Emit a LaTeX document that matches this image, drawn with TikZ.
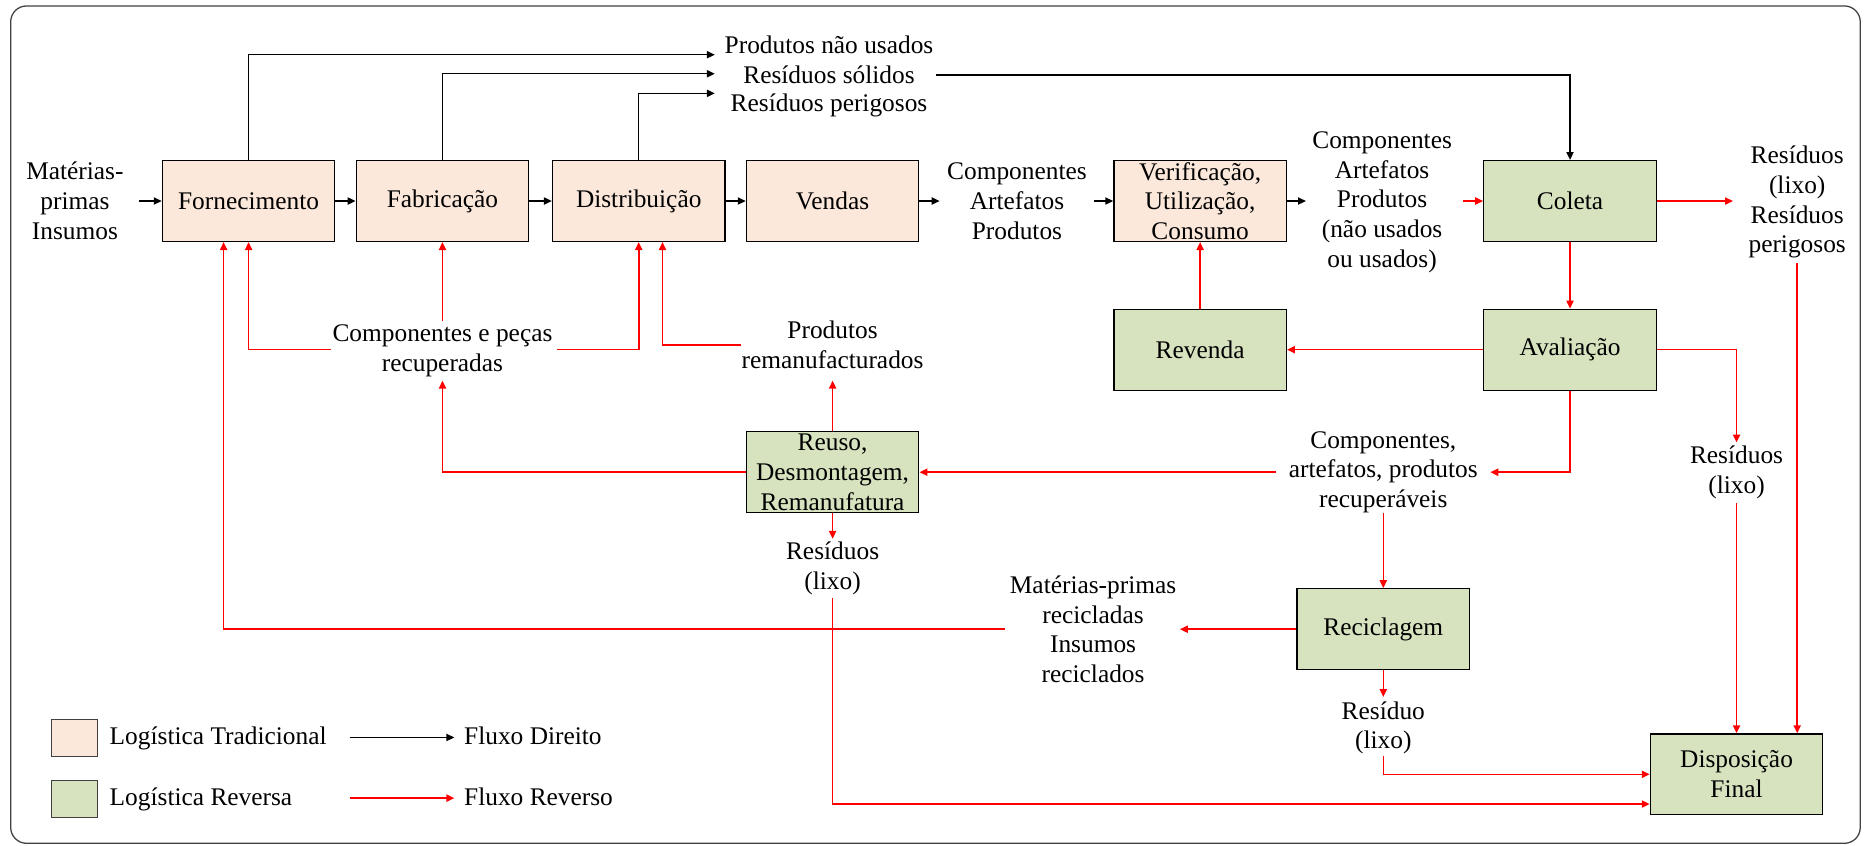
\documentclass[tikz,border=0pt]{standalone}
\usepackage{fontspec}
\setmainfont{Liberation Serif}
\usetikzlibrary{arrows.meta,calc}
\definecolor{trad}{HTML}{FBE8DB}
\definecolor{rev}{HTML}{D7E3BF}
\definecolor{frame}{HTML}{404040}

\begin{document}
\begin{tikzpicture}[x=0.75pt,y=-0.75pt,
  font=\fontsize{16}{18.75}\selectfont,
  box/.style={draw=black, line width=0.8pt, minimum width=108.75pt, minimum height=51pt, align=center, inner sep=0pt},
  tbox/.style={box, fill=trad},
  rbox/.style={box, fill=rev},
  lbl/.style={align=center, inner sep=0pt},
  key/.style={draw=frame, line width=0.8pt, minimum width=29.25pt, minimum height=23.25pt, inner sep=0pt},
  keytext/.style={anchor=base west, inner sep=0pt},
  fwd/.style={draw=black, line width=0.9pt, -{Triangle[length=5pt,width=4.5pt]}},
  rvs/.style={draw=red, line width=1pt, -{Triangle[length=5pt,width=4.5pt]}},
]
\useasboundingbox (0,0) rectangle (1568,711);
\draw[frame, line width=0.8pt, rounded corners=10] (9,5) rectangle (1564,709);

% forward chain
\node[lbl] (mp) at (63,169) {Matérias-\\primas\\Insumos};
\node[tbox] (forn) at (209,169) {Fornecimento};
\node[tbox] (fab) at (372,169) {Fabricação};
\node[tbox] (dist) at (537,169) {Distribuição};
\node[tbox] (vend) at (700,169) {Vendas};
\node[lbl] (cap1) at (855,169) {Componentes\\Artefatos\\Produtos};
\node[tbox] (ver) at (1009,169) {Verificação,\\Utilização,\\Consumo};
\node[lbl] (cap2) at (1162,170) {Componentes\\Artefatos\\Produtos\\(não usados\\ou usados)};
\node[rbox] (col) at (1320,169) {Coleta};
\node[lbl] (res1) at (1511,170) {Resíduos\\(lixo)\\Resíduos\\perigosos};

% waste of the forward chain
\node[lbl] (t1) at (697,38) {Produtos não usados};
\node[lbl] (t2) at (697,63) {Resíduos sólidos};
\node[lbl] (t3) at (697,89) {Resíduos perigosos};

% reverse chain
\node[rbox] (revd) at (1009,294) {Revenda};
\node[rbox] (aval) at (1320,294) {Avaliação};
\node[lbl] (res2) at (1460,397) {Resíduos\\(lixo)};
\node[lbl] (rec) at (1163,397) {Componentes,\\artefatos, produtos\\recuperáveis};
\node[rbox] (reuso) at (700,397) {Reuso,\\Desmontagem,\\Remanufatura};
\node[lbl] (prem) at (700,290) {Produtos\\remanufacturados};
\node[lbl] (cpr) at (372,295) {Componentes e peças\\recuperadas};
\node[lbl] (res3) at (700,478) {Resíduos\\(lixo)};
\node[rbox] (recic) at (1163,529) {Reciclagem};
\node[lbl] (mpr) at (919,529) {Matérias-primas\\recicladas\\Insumos\\reciclados};
\node[lbl] (res4) at (1163,612) {Resíduo\\(lixo)};
\node[rbox] (disp) at (1460,651) {Disposição\\Final};

% forward flow
\draw[fwd] ($(mp)+(54,0)$) -- (forn.west);
\draw[fwd] (forn.east) -- (fab.west);
\draw[fwd] (fab.east) -- (dist.west);
\draw[fwd] (dist.east) -- (vend.west);
\draw[fwd] (vend.east) -- ($(cap1)+(-65,0)$);
\draw[fwd] ($(cap1)+(65,0)$) -- (ver.west);
\draw[fwd] (ver.east) -- ($(cap2)+(-64,-1)$);
\draw[fwd] (forn.north) |- ($(t1)+(-96,8)$);
\draw[fwd] (fab.north) |- ($(t2)+(-96,-1)$);
\draw[fwd] (dist.north) |- ($(t3)+(-96,-10.5)$);
\draw[fwd] ($(t2)+(90,0)$) -| (col.north);

% reverse flow
\draw[rvs] ($(cap2)+(68,-1)$) -- (col.west);
\draw[rvs] (col.east) -- ($(res1)+(-54,-1)$);
\draw[rvs] ($(res1)+(0,51)$) -- (disp.north -| res1);
\draw[rvs] (col.south) -- (aval.north);
\draw[rvs] (aval.west) -- (revd.east);
\draw[rvs] (revd.north) -- (ver.south);
\draw[rvs] (aval.east) -| ($(res2)+(0,-25)$);
\draw[rvs] ($(res2)+(0,26)$) -- (disp.north);
\draw[rvs] (aval.south) |- ($(rec)+(90,0)$);
\draw[rvs] ($(rec)+(-90,0)$) -- (reuso.east);
\draw[rvs] ($(rec)+(0,34)$) -- (recic.north);
\draw[rvs] (recic.west) -- ($(mpr)+(73,0)$);
\draw[rvs] ($(mpr)+(-74,0)$) -| ($(forn.south)+(-21,0)$);
\draw[rvs] (reuso.west) -| ($(cpr)+(0,25)$);
\draw[rvs] ($(cpr)+(-94,-1)$) -| (forn.south);
\draw[rvs] ($(cpr)+(0,-25)$) -- (fab.south);
\draw[rvs] ($(cpr)+(96,-1)$) -| (dist.south);
\draw[rvs] ($(prem)+(-77,0)$) -| ($(dist.south)+(20,0)$);
\draw[rvs] (reuso.north) -- ($(prem)+(0,30)$);
\draw[rvs] (reuso.south) -- ($(res3)+(0,-25)$);
\draw[rvs] ($(res3)+(0,25)$) |- ($(disp.west)+(0,25)$);
\draw[rvs] (recic.south) -- ($(res4)+(0,-26)$);
\draw[rvs] ($(res4)+(0,24)$) |- (disp.west);

% legend
\node[key, fill=trad] (k1) at (62.5,620.5) {};
\node[keytext] (k1t) at (92,626) {Logística Tradicional};
\node[keytext] (k1f) at (390,626) {Fluxo Direito};
\coordinate (k1a) at (294,620);
\draw[fwd] (k1a) -- (k1a -| {$(k1f.west)+(-8,0)$});
\node[key, fill=rev] (k2) at (62.5,671.5) {};
\node[keytext] (k2t) at (92,677) {Logística Reversa};
\node[keytext] (k2f) at (390,677) {Fluxo Reverso};
\coordinate (k2a) at (294,671);
\draw[rvs] (k2a) -- (k2a -| {$(k2f.west)+(-8,0)$});
\end{tikzpicture}
\end{document}
